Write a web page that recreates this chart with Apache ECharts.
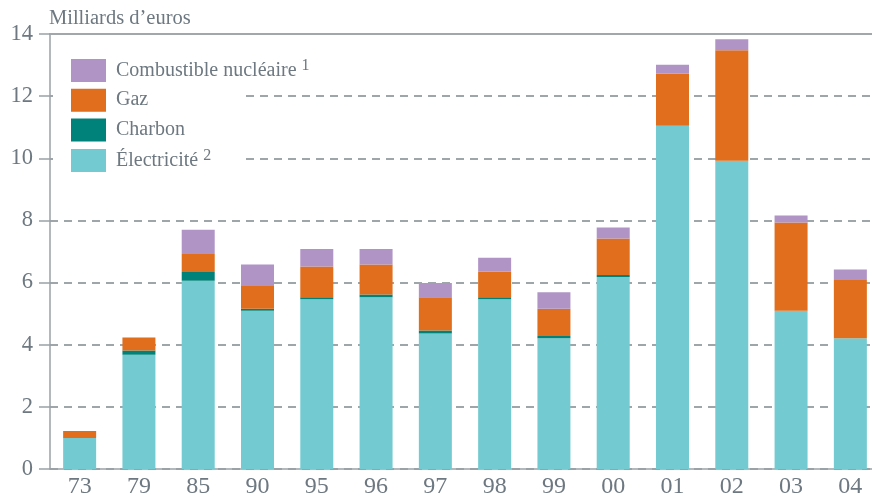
<!DOCTYPE html>
<html>
<head>
<meta charset="utf-8">
<script src="https://cdn.jsdelivr.net/npm/echarts@6/dist/echarts.min.js"></script>
<style>
html,body{margin:0;padding:0;background:#fff;}
#c{width:872px;height:498px;}
</style>
</head>
<body>
<div id="c"></div>
<script>
var categories = ['73','79','85','90','95','96','97','98','99','00','01','02','03','04'];
var electricite = [1.00, 3.68, 6.06, 5.09, 5.46, 5.53, 4.36, 5.46, 4.21, 6.18, 11.05, 9.92, 5.09, 4.21];
var charbon     = [0, 0.13, 0.28, 0.07, 0.07, 0.09, 0.10, 0.07, 0.07, 0.06, 0, 0, 0, 0];
var gaz         = [0.22, 0.42, 0.58, 0.73, 0.99, 0.96, 1.07, 0.83, 0.88, 1.18, 1.67, 3.56, 2.84, 1.87];
var nucleaire   = [0, 0, 0.78, 0.69, 0.56, 0.50, 0.46, 0.44, 0.53, 0.35, 0.29, 0.35, 0.23, 0.34];
var yTicks = [0, 2, 4, 6, 8, 10, 12, 14];
var unitLabel = 'Milliards d\u2019euros';
var legendLabels = {
  'Combustible nucléaire': 'Combustible nucléaire {s|1}',
  'Gaz': 'Gaz',
  'Charbon': 'Charbon',
  'Électricité': 'Électricité {s|2}'
};

var textColor = '#6d7880';
var font = 'Liberation Serif';
var chart = echarts.init(document.getElementById('c'), null, {renderer: 'canvas'});

function series(name, data, color) {
  return {
    name: name, type: 'bar', stack: 'total', data: data, barWidth: 33,
    itemStyle: {color: color}, emphasis: {disabled: true}
  };
}

chart.setOption({
  animation: false,
  backgroundColor: '#ffffff',
  title: {
    text: unitLabel, left: 49, top: 8, padding: 0,
    textStyle: {fontFamily: font, fontSize: 20.5, fontWeight: 'normal', color: textColor}
  },
  graphic: [{
    type: 'rect', z: 1, silent: true,
    shape: {x: 53, y: 45, width: 191, height: 130},
    style: {fill: '#ffffff'}
  }],
  legend: {
    data: ['Combustible nucléaire', 'Gaz', 'Charbon', 'Électricité'],
    orient: 'vertical', left: 71, top: 58, padding: 0,
    itemWidth: 35, itemHeight: 23, itemGap: 6.7, icon: 'rect',
    selectedMode: false,
    formatter: function (n) { return legendLabels[n]; },
    textStyle: {
      fontFamily: font, fontSize: 20, color: textColor, padding: [0, 0, 0, 5],
      rich: {s: {fontFamily: font, fontSize: 16, color: textColor, padding: [0, 0, 9, 0]}}
    }
  },
  grid: {left: 50, top: 34, width: 830, height: 435, outerBoundsMode: 'none', containLabel: false},
  xAxis: [{
    type: 'category', data: categories, position: 'bottom',
    axisLine: {show: true, lineStyle: {color: '#9aa1a6', width: 1.5}},
    axisTick: {show: false},
    axisLabel: {fontFamily: font, fontSize: 24, color: textColor, margin: 6}
  }, {
    type: 'category', data: categories, position: 'top',
    axisLine: {show: true, lineStyle: {color: '#a2a7ab', width: 2}},
    axisTick: {show: false}, axisLabel: {show: false}
  }],
  yAxis: {
    type: 'value', min: yTicks[0], max: yTicks[yTicks.length - 1], interval: 2,
    axisLine: {show: true, lineStyle: {color: '#9aa1a6', width: 1.5}},
    axisTick: {show: true, length: 11, lineStyle: {color: '#9aa1a6', width: 1.5}},
    axisLabel: {fontFamily: font, fontSize: 22.5, color: textColor, margin: 17},
    splitLine: {show: true, lineStyle: {color: '#7f898f', width: 1.5, type: [8, 6]}}
  },
  series: [
    series('Électricité', electricite, '#73cbd1'),
    series('Charbon', charbon, '#00827a'),
    series('Gaz', gaz, '#e06e1c'),
    series('Combustible nucléaire', nucleaire, '#b194c6')
  ]
});
</script>
</body>
</html>
